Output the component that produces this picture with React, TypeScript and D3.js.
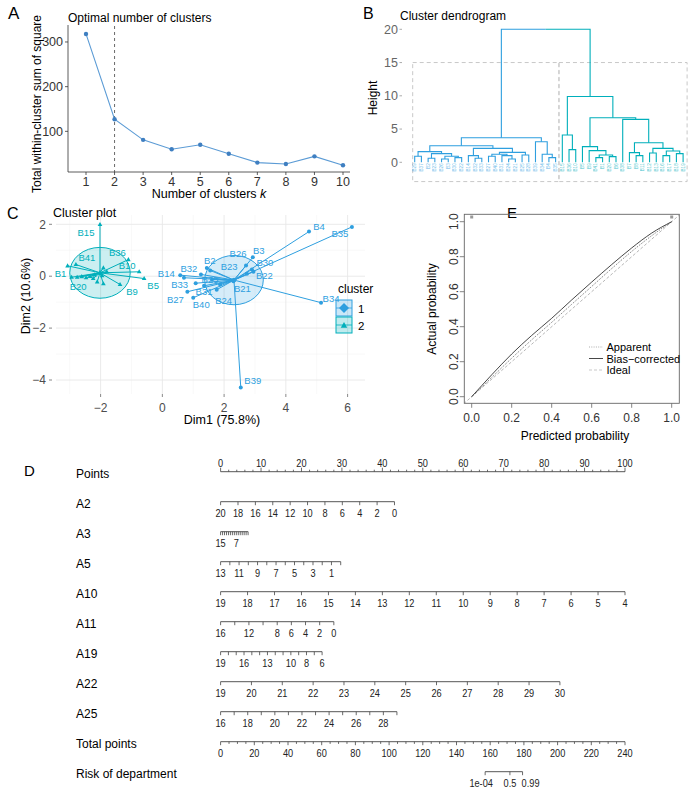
import React from "react";
import * as d3 from "d3";

// ---------- A: elbow method ----------
const elbowK = [1, 2, 3, 4, 5, 6, 7, 8, 9, 10];
const elbowWss = [318, 127, 81, 60, 70, 50, 30, 27, 44, 24];
const elbowYTicks = [100, 200, 300];
const optimalK = 2;

// ---------- B: dendrogram ----------
// node = [height, left, right], leaf = sample name
type Tree = string | [number, Tree, Tree];
const cluster1Tree: Tree = [3.7,
  [2.5,
    [1.6, [0.9, "B29", "B37"], [1.3, [0.6, "B2", "B23"], [0.9, [0.5, "B26", "B3"], [0.7, "B30", "B22"]]]],
    [2.1, [1.0, "B14", [0.6, "B32", "B33"]], [1.5, [1.2, [0.9, "B27", "B40"], [1.0, "B31", [0.5, "B24", "B21"]]], [1.1, "B25", "B28"]]],
  ],
  [3.1, "B39", [1.2, "B34", [0.7, "B4", "B35"]]],
];
const cluster2Tree: Tree = [9.9,
  [4.1, "B15", [1.9, "B36", "B10"]],
  [6.7,
    [2.35, "B5", [1.75, "B9", [1.1, [0.7, "B41", "B1"], [0.85, "B20", "B6"]]]],
    [6.45, "B38", [2.95, [1.45, "B7", [1.0, "B8", "B11"]], [2.1, [1.4, "B12", "B13"], [1.7, [1.0, "B16", "B17"], [1.3, "B18", "B19"]]]]],
  ],
];
const rootHeight = 20;
const dendroYTicks = [0, 5, 10, 15, 20];
const rectTop = 15;
const rectBottom = -2.9;

// ---------- C: cluster plot (PCA) ----------
const pcaNames = [
  "B4", "B35", "B3", "B26", "B30", "B22", "B23", "B2", "B32", "B14", "B29", "B33", "B27", "B40", "B31", "B24", "B21", "B25", "B28", "B34", "B39", "B37",
  "B15", "B41", "B1", "B6", "B20", "B7", "B8", "B11", "B12", "B13", "B16", "B17", "B18", "B36", "B10", "B5", "B9", "B19", "B38",
];
const pcaDim1 = [
  4.75, 6.14, 2.93, 2.71, 2.90, 2.95, 1.55, 1.44, 1.25, 0.58, 0.70, 1.08, 0.81, 1.00, 1.35, 1.76, 2.30, 1.61, 1.87, 5.14, 2.54, 2.74,
  -2.02, -2.80, -3.07, -2.94, -2.76, -2.61, -2.47, -2.34, -2.24, -2.11, -1.91, -1.91, -1.80, -1.10, -0.75, -0.59, -1.37, -2.20, -1.95,
];
const pcaDim2 = [
  1.72, 1.90, 0.73, 0.41, 0.26, 0.17, 0.22, 0.32, 0.07, 0.04, -0.06, -0.27, -0.60, -0.83, -0.37, -0.52, -0.19, -0.13, -0.32, -1.02, -4.29, 0.09,
  1.99, 0.45, 0.40, -0.04, -0.04, -0.02, -0.06, -0.01, -0.09, -0.22, -0.29, 0.32, 0.17, 0.64, 0.17, -0.09, -0.32, 0.05, 0.02,
];
const pcaCluster = [
  1, 1, 1, 1, 1, 1, 1, 1, 1, 1, 1, 1, 1, 1, 1, 1, 1, 1, 1, 1, 1, 1,
  2, 2, 2, 2, 2, 2, 2, 2, 2, 2, 2, 2, 2, 2, 2, 2, 2, 2, 2,
];
const clusterIds = [1, 2];
const clusterCenterX = [2.32, -2.02];
const clusterCenterY = [-0.15, 0.13];
const clusterRadius = [0.95, 0.98];
const pcaXTicks = [-2, 0, 2, 4, 6];
const pcaYTicks = [-4, -2, 0, 2];

// label nudges (px) for the names that are printed
const labelNudge: Record<string, [number, number]> = {
  B15: [-14, 8], B41: [11, -7], B1: [-7, 8], B20: [1, 9], B36: [-11, -7], B10: [-12, -6], B5: [9, 7], B9: [12, 7],
  B4: [10, -5], B35: [-12, 7], B3: [6, -7], B26: [-8, -12], B30: [13, -7], B22: [11, 4], B23: [19, -4], B2: [3, -7],
  B32: [-12, -6], B14: [-14, -2], B33: [-16, 1], B27: [-12, 8], B40: [8, 7], B31: [0, 6], B24: [7, 11], B21: [9, 7],
  B34: [10, -4], B39: [12, -7], B25: [-2, 0],
};

// ---------- E: calibration ----------
const calPredicted = [0, 0.1, 0.2, 0.3, 0.4, 0.5, 0.6, 0.7, 0.8, 0.9, 1.0];
const calApparent = [0, 0.11, 0.22, 0.325, 0.425, 0.528, 0.63, 0.732, 0.83, 0.92, 1.0];
const calBiasCorrected = [0, 0.125, 0.244, 0.35, 0.448, 0.553, 0.655, 0.755, 0.85, 0.935, 1.0];
const calTicks = [0, 0.2, 0.4, 0.6, 0.8, 1.0];
const calRug = [0, 1];

// ---------- D: nomogram ----------
const nomoNames = ["A2", "A3", "A5", "A10", "A11", "A19", "A22", "A25"];
const nomoFrom = [20, 15, 13, 19, 16, 19, 19, 16];
const nomoTo = [0, 1, 0, 4, 0, 6, 30, 29];
const nomoMaxPoints = [43, 6.8, 29.7, 100, 28, 25.1, 83.9, 43.6];
const nomoTickStep = [2, 1, 1, 1, 2, 1, 1, 1];
const nomoLabels = [
  [20, 18, 16, 14, 12, 10, 8, 6, 4, 2, 0],
  [15, 7],
  [13, 11, 9, 7, 5, 3, 1],
  [19, 18, 17, 16, 15, 14, 13, 12, 11, 10, 9, 8, 7, 6, 5, 4],
  [16, 12, 8, 6, 4, 2, 0],
  [19, 16, 13, 10, 8, 6],
  [19, 20, 21, 22, 23, 24, 25, 26, 27, 28, 29, 30],
  [16, 18, 20, 22, 24, 26, 28],
];
const pointsLabels = [0, 10, 20, 30, 40, 50, 60, 70, 80, 90, 100];
const totalLabels = [0, 20, 40, 60, 80, 100, 120, 140, 160, 180, 200, 220, 240];
const riskLabels = ["1e-04", "0.5", "0.99"];
const riskTotalPoints = [157, 171.7, 179.2];

const sans = "'Liberation Sans', Arial, Helvetica, sans-serif";
const blue = "#2E9FDF";
const teal = "#00AFBB";
const clusterColor = (c: number) => (c === 1 ? blue : teal);

// condensed tick number, like R's narrow axis font
function NarrowNum({ x, y, children }: { x: number; y: number; children: React.ReactNode }) {
  return (
    <g transform={`translate(${x},${y}) scale(0.8,1)`}>
      <text x={0} y={0} fontSize={11.5} fontFamily={sans} textAnchor="middle" fill="#222">{children}</text>
    </g>
  );
}

function ElbowPanel() {
  const x = d3.scaleLinear().domain([1, 10]).range([86, 343]);
  const y = d3.scaleLinear().domain([9, 338]).range([172, 25]);
  const line = d3.line<number>().x((_, i) => x(elbowK[i])).y(d => y(d));
  return (
    <g fontFamily={sans}>
      <text x={8} y={19} fontSize={17}>A</text>
      <text x={68} y={22} fontSize={12}>Optimal number of clusters</text>
      <line x1={68} x2={68} y1={25} y2={172} stroke="#333" strokeWidth={0.8} />
      <line x1={68} x2={350} y1={172} y2={172} stroke="#333" strokeWidth={0.8} />
      {elbowYTicks.map(v => (
        <g key={v}>
          <line x1={65} x2={68} y1={y(v)} y2={y(v)} stroke="#333" strokeWidth={0.8} />
          <text x={63} y={y(v) + 4.3} fontSize={12.5} textAnchor="end" fill="#333">{v}</text>
        </g>
      ))}
      {elbowK.map(k => (
        <g key={k}>
          <line x1={x(k)} x2={x(k)} y1={172} y2={175} stroke="#333" strokeWidth={0.8} />
          <text x={x(k)} y={185.5} fontSize={12.5} textAnchor="middle" fill="#333">{k}</text>
        </g>
      ))}
      <line x1={x(optimalK)} x2={x(optimalK)} y1={26} y2={172} stroke="#444" strokeWidth={0.8} strokeDasharray="3,3" />
      <path d={line(elbowWss) || ""} fill="none" stroke="#5b9bd5" strokeWidth={1.1} />
      {elbowWss.map((v, i) => (
        <circle key={i} cx={x(elbowK[i])} cy={y(v)} r={2.2} fill="#3f7fc1" />
      ))}
      <text x={209} y={198} fontSize={12.5} textAnchor="middle">
        <tspan>Number of clusters </tspan>
        <tspan fontStyle="italic">k</tspan>
      </text>
      <text transform="translate(41,104) rotate(-90)" fontSize={12} textAnchor="middle">
        Total within-cluster sum of square
      </text>
    </g>
  );
}

function DendrogramPanel() {
  const y = d3.scaleLinear().domain([0, 20]).range([162.3, 29.3]);
  const xLeaf = d3.scaleLinear().domain([0, 40]).range([414.7, 683.1]);
  const root = d3.hierarchy<Tree>([rootHeight, cluster1Tree, cluster2Tree] as Tree, d =>
    typeof d === "string" ? null : [d[1], d[2]]
  );
  const leaves = root.leaves();
  const pos = new Map<d3.HierarchyNode<Tree>, number>();
  leaves.forEach((l, i) => pos.set(l, xLeaf(i)));
  root.eachAfter(n => {
    if (n.children) pos.set(n, (pos.get(n.children[0])! + pos.get(n.children[1])!) / 2);
  });
  const hOf = (n: d3.HierarchyNode<Tree>) => (typeof n.data === "string" ? 0 : n.data[0]);
  const left = root.children![0];
  const right = root.children![1];
  const colorOf = (n: d3.HierarchyNode<Tree>) => (n.ancestors().includes(left) ? blue : teal);

  const links: { d: string; c: string }[] = [];
  root.each(n => {
    if (!n.children || n === root) return;
    const [a, b] = n.children;
    links.push({
      d: `M${pos.get(a)},${y(hOf(a))}V${y(hOf(n))}H${pos.get(b)}V${y(hOf(b))}`,
      c: colorOf(n),
    });
  });
  const rx = pos.get(root)!;
  const split = (xLeaf(21) + xLeaf(22)) / 2;

  return (
    <g fontFamily={sans}>
      <text x={363} y={19} fontSize={16}>B</text>
      <text x={400} y={20} fontSize={12}>Cluster dendrogram</text>
      {dendroYTicks.map(v => (
        <g key={v}>
          <text x={398} y={y(v) + 4.3} fontSize={12.5} textAnchor="end" fill="#666">{v}</text>
          <line x1={399.5} x2={402} y1={y(v)} y2={y(v)} stroke="#888" strokeWidth={0.7} />
        </g>
      ))}
      <text transform="translate(377,98) rotate(-90)" fontSize={12} textAnchor="middle">Height</text>
      <rect x={xLeaf(0) - 2} y={y(rectTop)} width={split - xLeaf(0) + 2} height={y(rectBottom) - y(rectTop)}
        fill="none" stroke="#c8c8c8" strokeWidth={1} strokeDasharray="4,3" />
      <rect x={split} y={y(rectTop)} width={xLeaf(40) + 4 - split} height={y(rectBottom) - y(rectTop)}
        fill="none" stroke="#c8c8c8" strokeWidth={1} strokeDasharray="4,3" />
      {links.map((l, i) => (
        <path key={i} d={l.d} fill="none" stroke={l.c} strokeWidth={1.1} />
      ))}
      <path d={`M${pos.get(left)},${y(hOf(left))}V${y(rootHeight)}H${rx}`} fill="none" stroke={blue} strokeWidth={1.1} />
      <path d={`M${rx},${y(rootHeight)}H${pos.get(right)}V${y(hOf(right))}`} fill="none" stroke={teal} strokeWidth={1.1} />
      {leaves.map((l, i) => (
        <text key={i} transform={`translate(${pos.get(l)! + 1.5},${y(0) + 1}) rotate(-90)`} fontSize={4.6}
          textAnchor="end" fill={colorOf(l)} opacity={0.7}>{l.data as string}</text>
      ))}
    </g>
  );
}

function ClusterPlotPanel() {
  const x = d3.scaleLinear().domain([-2, 6]).range([100.6, 347.6]);
  const y = d3.scaleLinear().domain([-4, 2]).range([380, 224.3]);
  const [x0, x1] = [56, 365];
  const [y0, y1] = [215, 394];
  const minorX = [-3, -1, 1, 3, 5];
  const minorY = [-3, -1, 1];
  const tri = (cx: number, cy: number, s: number) =>
    `M${cx},${cy - s}L${cx + s * 0.9},${cy + s * 0.6}L${cx - s * 0.9},${cy + s * 0.6}Z`;
  return (
    <g fontFamily={sans}>
      <text x={7} y={219} fontSize={16}>C</text>
      <text x={53} y={216.5} fontSize={12.5}>Cluster plot</text>
      {minorX.map(v => <line key={"mx" + v} x1={x(v)} x2={x(v)} y1={y0} y2={y1} stroke="#f3f3f3" strokeWidth={0.6} />)}
      {minorY.map(v => <line key={"my" + v} x1={x0} x2={x1} y1={y(v)} y2={y(v)} stroke="#f3f3f3" strokeWidth={0.6} />)}
      {pcaXTicks.map(v => <line key={"gx" + v} x1={x(v)} x2={x(v)} y1={y0} y2={y1} stroke="#e8e8e8" strokeWidth={0.9} />)}
      {pcaYTicks.map(v => <line key={"gy" + v} x1={x0} x2={x1} y1={y(v)} y2={y(v)} stroke="#e8e8e8" strokeWidth={0.9} />)}
      {pcaXTicks.map(v => (
        <g key={"tx" + v}>
          <line x1={x(v)} x2={x(v)} y1={y1} y2={y1 + 3} stroke="#555" strokeWidth={0.7} />
          <text x={x(v)} y={411.5} fontSize={12} textAnchor="middle" fill="#4d4d4d">{v < 0 ? "\u2212" + -v : v}</text>
        </g>
      ))}
      {pcaYTicks.map(v => (
        <g key={"ty" + v}>
          <line x1={49} x2={52} y1={y(v)} y2={y(v)} stroke="#555" strokeWidth={0.7} />
          <text x={46} y={y(v) + 4.2} fontSize={12} textAnchor="end" fill="#4d4d4d">{v < 0 ? "\u2212" + -v : v}</text>
        </g>
      ))}
      <text x={222} y={424} fontSize={12.5} textAnchor="middle">Dim1 (75.8%)</text>
      <text transform="translate(30,296) rotate(-90)" fontSize={12.5} textAnchor="middle">Dim2 (10.6%)</text>

      {clusterIds.map((c, k) => (
        <ellipse key={"e" + c} cx={x(clusterCenterX[k])} cy={y(clusterCenterY[k])}
          rx={x(clusterRadius[k]) - x(0)} ry={y(0) - y(clusterRadius[k])}
          fill={clusterColor(c)} fillOpacity={0.2} stroke={clusterColor(c)} strokeWidth={1} />
      ))}
      {pcaNames.map((n, i) => {
        const k = pcaCluster[i] - 1;
        return <line key={"s" + n} x1={x(clusterCenterX[k])} y1={y(clusterCenterY[k])} x2={x(pcaDim1[i])} y2={y(pcaDim2[i])}
          stroke={clusterColor(pcaCluster[i])} strokeWidth={1} />;
      })}
      {pcaNames.map((n, i) => {
        const c = clusterColor(pcaCluster[i]);
        const px = x(pcaDim1[i]);
        const py = y(pcaDim2[i]);
        return pcaCluster[i] === 1
          ? <circle key={"p" + n} cx={px} cy={py} r={2} fill={c} />
          : <path key={"p" + n} d={tri(px, py, 2.6)} fill={c} />;
      })}
      {clusterIds.map((c, k) => (
        c === 1
          ? <circle key={"c" + c} cx={x(clusterCenterX[k])} cy={y(clusterCenterY[k])} r={2.4} fill={clusterColor(c)} />
          : <path key={"c" + c} d={tri(x(clusterCenterX[k]), y(clusterCenterY[k]), 3)} fill={clusterColor(c)} />
      ))}
      {pcaNames.map((n, i) => {
        const nudge = labelNudge[n];
        if (!nudge) return null;
        return (
          <text key={"l" + n} x={x(pcaDim1[i]) + nudge[0]} y={y(pcaDim2[i]) + nudge[1]} fontSize={9.5}
            textAnchor="middle" dominantBaseline="central" fill={clusterColor(pcaCluster[i])}>{n}</text>
        );
      })}

      <text x={338} y={293} fontSize={12}>cluster</text>
      {clusterIds.map((c, k) => {
        const ky = 300 + k * 17;
        const col = clusterColor(c);
        return (
          <g key={"k" + c}>
            <rect x={336} y={ky} width={16} height={16} fill={col} fillOpacity={0.25} stroke={col} strokeWidth={1} />
            <line x1={336} x2={352} y1={ky + 8} y2={ky + 8} stroke={col} strokeWidth={0.8} />
            {c === 1
              ? <path d={`M344,${ky + 3}L349,${ky + 8}L344,${ky + 13}L339,${ky + 8}Z`} fill={col} />
              : <path d={tri(344, ky + 8.5, 3.6)} fill={col} />}
            <text x={358} y={ky + 12.5} fontSize={11.5}>{c}</text>
          </g>
        );
      })}
    </g>
  );
}

function CalibrationPanel() {
  const x = d3.scaleLinear().domain([0, 1]).range([471.7, 671.7]);
  const y = d3.scaleLinear().domain([0, 1]).range([396.7, 221.7]);
  const box = { x: 464.3, y: 214.3, w: 215, h: 189 };
  const curve = (vals: number[]) =>
    d3.line<number>().x((_, i) => x(calPredicted[i])).y(d => y(d)).curve(d3.curveMonotoneX)(vals) || "";
  return (
    <g fontFamily={sans}>
      <defs>
        <clipPath id="calClip"><rect x={box.x} y={box.y} width={box.w} height={box.h} /></clipPath>
      </defs>
      <text x={507} y={218} fontSize={15}>E</text>
      <g clipPath="url(#calClip)">
        <line x1={x(-0.04)} y1={y(-0.04)} x2={x(1.04)} y2={y(1.04)} stroke="#a5a5a5" strokeWidth={0.8} strokeDasharray="3,2" />
        <path d={curve(calApparent)} fill="none" stroke="#444" strokeWidth={0.8} strokeDasharray="1,1.3" />
        <path d={curve(calBiasCorrected)} fill="none" stroke="#333" strokeWidth={0.9} />
      </g>
      {calRug.map(v => (
        <rect key={v} x={x(v) - 1.5} y={215.5} width={3} height={3} fill="#999" />
      ))}
      <rect x={box.x} y={box.y} width={box.w} height={box.h} fill="none" stroke="#666" strokeWidth={0.9} />
      {calTicks.map(v => (
        <g key={v}>
          <line x1={x(v)} x2={x(v)} y1={box.y + box.h} y2={box.y + box.h + 4.5} stroke="#666" strokeWidth={0.8} />
          <text x={x(v)} y={421.5} fontSize={12} textAnchor="middle" fill="#333">{v.toFixed(1)}</text>
          <line x1={box.x} x2={box.x - 4.5} y1={y(v)} y2={y(v)} stroke="#666" strokeWidth={0.8} />
          <text transform={`translate(457.5,${y(v)}) rotate(-90)`} fontSize={12} textAnchor="middle" fill="#333">{v.toFixed(1)}</text>
        </g>
      ))}
      <text x={575} y={440} fontSize={12} textAnchor="middle">Predicted probability</text>
      <text transform="translate(436,309) rotate(-90)" fontSize={12} textAnchor="middle">Actual probability</text>
      <line x1={589} x2={603} y1={347} y2={347} stroke="#777" strokeWidth={0.6} strokeDasharray="1,1.3" />
      <line x1={589} x2={603} y1={358.5} y2={358.5} stroke="#333" strokeWidth={0.9} />
      <line x1={589} x2={603} y1={370} y2={370} stroke="#bbb" strokeWidth={0.8} strokeDasharray="3,2" />
      <text x={606.5} y={351} fontSize={11}>Apparent</text>
      <text x={606.5} y={362.5} fontSize={11}>Bias{"\u2212"}corrected</text>
      <text x={606.5} y={374} fontSize={11}>Ideal</text>
    </g>
  );
}

function NomogramPanel() {
  const px = d3.scaleLinear().domain([0, 100]).range([220.6, 625]);
  const tx = d3.scaleLinear().domain([0, 240]).range([220.6, 625]);
  const rowY = (i: number) => 471.7 + i * 30;
  const stroke = "#444";
  const rowLabel = (label: string, i: number) => (
    <text x={76} y={rowY(i) + 6} fontSize={12} fontFamily={sans}>{label}</text>
  );
  return (
    <g>
      <text x={24} y={476} fontSize={15} fontFamily={sans}>D</text>

      {rowLabel("Points", 0)}
      <line x1={px(0)} x2={px(100)} y1={rowY(0)} y2={rowY(0)} stroke={stroke} strokeWidth={0.9} />
      {d3.range(0, 101, 2).map(v => (
        <line key={v} x1={px(v)} x2={px(v)} y1={rowY(0)} y2={rowY(0) - (v % 10 === 0 ? 4 : 2)} stroke={stroke} strokeWidth={0.8} />
      ))}
      {pointsLabels.map(v => (
        <NarrowNum key={v} x={px(v)} y={rowY(0) - 4.5}>{v}</NarrowNum>
      ))}

      {nomoNames.map((name, k) => {
        const ry = rowY(k + 1);
        const s = d3.scaleLinear().domain([nomoFrom[k], nomoTo[k]]).range([0, nomoMaxPoints[k]]);
        const dir = nomoTo[k] > nomoFrom[k] ? 1 : -1;
        const ticks = d3.range(nomoFrom[k], nomoTo[k] + dir * 0.001, dir * nomoTickStep[k]);
        return (
          <g key={name}>
            {rowLabel(name, k + 1)}
            <line x1={px(s(nomoFrom[k]))} x2={px(s(nomoTo[k]))} y1={ry} y2={ry} stroke={stroke} strokeWidth={0.9} />
            {ticks.map(v => (
              <line key={v} x1={px(s(v))} x2={px(s(v))} y1={ry} y2={ry + 3.5} stroke={stroke} strokeWidth={0.8} />
            ))}
            {nomoLabels[k].map(v => (
              <NarrowNum key={v} x={px(s(v))} y={ry + 15.5}>{v}</NarrowNum>
            ))}
          </g>
        );
      })}

      {rowLabel("Total points", 9)}
      <line x1={tx(0)} x2={tx(240)} y1={rowY(9)} y2={rowY(9)} stroke={stroke} strokeWidth={0.9} />
      {d3.range(0, 241, 5).map(v => (
        <line key={v} x1={tx(v)} x2={tx(v)} y1={rowY(9)} y2={rowY(9) + (v % 20 === 0 ? 3.5 : 2.2)} stroke={stroke} strokeWidth={0.8} />
      ))}
      {totalLabels.map(v => (
        <NarrowNum key={v} x={tx(v)} y={rowY(9) + 15.5}>{v}</NarrowNum>
      ))}

      {rowLabel("Risk of department", 10)}
      <line x1={tx(riskTotalPoints[0])} x2={tx(riskTotalPoints[2])} y1={rowY(10)} y2={rowY(10)} stroke={stroke} strokeWidth={0.9} />
      {riskTotalPoints.map((v, i) => (
        <g key={i}>
          <line x1={tx(v)} x2={tx(v)} y1={rowY(10)} y2={rowY(10) + 3.5} stroke={stroke} strokeWidth={0.8} />
          <NarrowNum x={tx(v) + [-4, 0, 8][i]} y={rowY(10) + 15.5}>{riskLabels[i]}</NarrowNum>
        </g>
      ))}
    </g>
  );
}

export default function App() {
  return (
    <svg width={700} height={799} style={{ position: "absolute", left: 0, top: 0, background: "#fff" }}>
      <ElbowPanel />
      <DendrogramPanel />
      <ClusterPlotPanel />
      <CalibrationPanel />
      <NomogramPanel />
    </svg>
  );
}
